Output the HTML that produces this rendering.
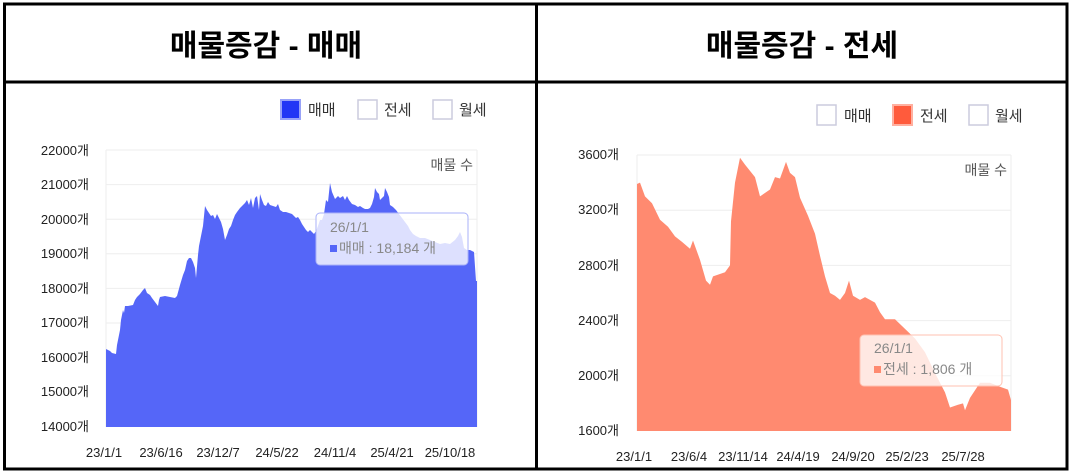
<!DOCTYPE html>
<html><head><meta charset="utf-8"><style>
html,body{margin:0;padding:0;background:#fff;}
svg{display:block;font-family:"Liberation Sans","Noto Sans CJK KR",sans-serif;}
</style></head><body>
<svg width="1071" height="476" viewBox="0 0 1071 476" xmlns="http://www.w3.org/2000/svg">
<rect x="0" y="0" width="1071" height="476" fill="#fff"/>
<rect x="4.5" y="4" width="1062.5" height="465" fill="none" stroke="#000" stroke-width="3"/>
<line x1="4" y1="82" x2="1067" y2="82" stroke="#000" stroke-width="3"/>
<line x1="536.5" y1="4" x2="536.5" y2="469" stroke="#000" stroke-width="3"/>
<text x="266" y="56" text-anchor="middle" font-size="30" font-weight="bold" fill="#000">매물증감 - 매매</text>
<text x="802" y="56" text-anchor="middle" font-size="30" font-weight="bold" fill="#000">매물증감 - 전세</text>

<!-- LEFT CHART -->
<g stroke="#eee" stroke-width="1">
<line x1="106" y1="150" x2="477" y2="150"/><line x1="106" y1="184.6" x2="477" y2="184.6"/>
<line x1="106" y1="219.2" x2="477" y2="219.2"/><line x1="106" y1="253.8" x2="477" y2="253.8"/>
<line x1="106" y1="288.4" x2="477" y2="288.4"/><line x1="106" y1="323" x2="477" y2="323"/>
<line x1="106" y1="357.6" x2="477" y2="357.6"/><line x1="106" y1="392.2" x2="477" y2="392.2"/>
<line x1="106" y1="150" x2="106" y2="427"/><line x1="477" y1="150" x2="477" y2="427"/>
</g>
<g font-size="13" fill="#222" text-anchor="end">
<text x="89" y="155">22000개</text><text x="89" y="189">21000개</text><text x="89" y="224">20000개</text>
<text x="89" y="258">19000개</text><text x="89" y="293">18000개</text><text x="89" y="327">17000개</text>
<text x="89" y="362">16000개</text><text x="89" y="396">15000개</text><text x="89" y="431">14000개</text>
</g>
<polygon fill="#5566f8" points="106,427 106,349 110,351 112,353 116,354 117,345 118,340 120,330 121,320 123,310 124,313 125,306 128,306 133,305 135,300 137,297 140,294 143,290 145,288 147,293 150,295 152,298 155,302 158,306 159,300 160,297 165,296 170,297 175,298 177,296 180,285 183,275 185,270 187,261 189,258 191,258 193,262 195,268 196,278 198,255 199,246 201,236 203,226 205,206 207,210 209,213 211,216 213,215 215,219 217,214 219,218 221,222 223,229 225,240 227,235 229,229 231,226 233,220 235,215 237,212 240,208 243,205 245,203 247,200 249,205 251,198 253,208 255,198 257,196 259,210 260,194 262,200 264,205 266,206 268,202 270,205 273,206 276,207 278,204 280,210 283,212 286,212 289,213 292,214 294,216 296,218 298,217 300,220 302,224 304,227 306,230 308,232 310,230 312,232 314,234 316,231 318,226 320,220 322,220 324,214 326,200 328,202 330,183 332,192 335,199 338,196 340,198 343,196 345,200 347,196 349,200 352,204 355,205 358,207 360,206 363,208 365,209 368,209 370,208 372,204 374,197 375,188 377,192 379,194 380,200 382,198 384,196 385,188 387,192 389,197 390,205 393,207 396,210 399,214 402,218 405,222 408,226 410,230 413,234 416,236 420,238 425,238 430,240 435,242 440,244 445,243 450,244 455,240 458,236 460,232 462,237 464,248 467,250 470,250 474,252 476,281 477,281 477,427"/>
<rect x="316" y="213" width="152" height="52" rx="4" fill="rgba(255,255,255,0.8)" stroke="#aab2f8" stroke-width="1"/>
<text x="330" y="232" font-size="14" fill="#888">26/1/1</text>
<rect x="330" y="245" width="7" height="7" fill="#5566f8"/>
<text x="339" y="253" font-size="14" fill="#888">매매 : 18,184 개</text>
<text x="473" y="170" text-anchor="end" font-size="14" fill="#555">매물 수</text>
<g font-size="13" fill="#222" text-anchor="middle">
<text x="104" y="457">23/1/1</text><text x="161" y="457">23/6/16</text><text x="218" y="457">23/12/7</text>
<text x="277" y="457">24/5/22</text><text x="335" y="457">24/11/4</text><text x="392" y="457">25/4/21</text>
<text x="450" y="457">25/10/18</text>
</g>
<rect x="281" y="100" width="19" height="19" fill="#2236f5" stroke="#98a2f8" stroke-width="2"/>
<text x="308" y="115" font-size="15" fill="#333">매매</text>
<rect x="358" y="100" width="19" height="19" fill="#fff" stroke="#ccd" stroke-width="1.5"/>
<text x="384" y="115" font-size="15" fill="#333">전세</text>
<rect x="433" y="100" width="19" height="19" fill="#fff" stroke="#ccd" stroke-width="1.5"/>
<text x="459" y="115" font-size="15" fill="#333">월세</text>

<!-- RIGHT CHART -->
<g stroke="#eee" stroke-width="1">
<line x1="637" y1="155" x2="1011" y2="155"/><line x1="637" y1="210.2" x2="1011" y2="210.2"/>
<line x1="637" y1="265.4" x2="1011" y2="265.4"/><line x1="637" y1="320.6" x2="1011" y2="320.6"/>
<line x1="637" y1="375.8" x2="1011" y2="375.8"/>
<line x1="637" y1="155" x2="637" y2="431"/><line x1="1011" y1="155" x2="1011" y2="431"/>
</g>
<g font-size="13" fill="#222" text-anchor="end">
<text x="619" y="159">3600개</text><text x="619" y="214">3200개</text><text x="619" y="270">2800개</text>
<text x="619" y="325">2400개</text><text x="619" y="380">2000개</text><text x="619" y="435">1600개</text>
</g>
<polygon fill="#ff8a70" points="637,431 637,184 640,182.6 645,196.4 652,203.3 660,219.8 668,226.7 675,236.4 682,241.9 690,248.8 693,240.5 700,259.9 706,280.6 710,284.7 713,276.4 725,272.3 730,265.4 731,221.2 735,182.6 740,157.8 745,164.6 755,177.1 760,196.4 770,189.5 775,177.1 780,178.5 786,161.9 790,172.9 795,177.1 800,197.8 808,215.7 815,233.7 820,255.7 825,276.4 830,293 835,295.8 840,299.9 845,293 849,280.6 853,295.8 860,299.9 865,297.1 875,302.6 880,312.3 885,319.2 895,319.2 905,328.9 915,338.5 925,352.3 935,373 945,392.4 950,407.5 958,404.8 963,403.4 965,410.3 970,397.9 980,382.7 990,382.7 1000,386.8 1008,389.6 1011,400.1 1011,431"/>
<rect x="860" y="335" width="142" height="51" rx="4" fill="rgba(255,255,255,0.8)" stroke="#ffc2b2" stroke-width="1"/>
<text x="874" y="353" font-size="14" fill="#888">26/1/1</text>
<rect x="874" y="366" width="7" height="7" fill="#ff8a70"/>
<text x="883" y="374" font-size="14" fill="#888">전세 : 1,806 개</text>
<text x="1007" y="175" text-anchor="end" font-size="14" fill="#555">매물 수</text>
<g font-size="13" fill="#222" text-anchor="middle">
<text x="634" y="461">23/1/1</text><text x="689" y="461">23/6/4</text><text x="743" y="461">23/11/14</text>
<text x="798" y="461">24/4/19</text><text x="853" y="461">24/9/20</text><text x="907" y="461">25/2/23</text>
<text x="963" y="461">25/7/28</text>
</g>
<rect x="817" y="105" width="19" height="20" fill="#fff" stroke="#ccd" stroke-width="1.5"/>
<text x="844" y="121" font-size="15" fill="#333">매매</text>
<rect x="893" y="105" width="19" height="20" fill="#ff5b3c" stroke="#ffb0a0" stroke-width="2"/>
<text x="920" y="121" font-size="15" fill="#333">전세</text>
<rect x="969" y="105" width="19" height="20" fill="#fff" stroke="#ccd" stroke-width="1.5"/>
<text x="995" y="121" font-size="15" fill="#333">월세</text>
</svg>
</body></html>
